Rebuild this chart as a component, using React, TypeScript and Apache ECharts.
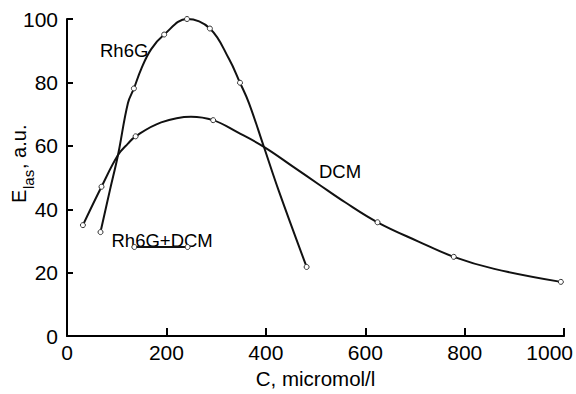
import React, { useEffect, useRef } from "react";
import * as echarts from "echarts";

// Tick settings
const xMin = 0;
const xMax = 1000;
const xStep = 200;
const yMin = 0;
const yMax = 100;
const yStep = 20;

// Rh6G curve; marked = drawn with a small circle
const rh6gX = [67.4, 86, 102.6, 122.6, 134.6, 149.4, 169.4, 195.4, 241.4, 287.4, 326, 348, 366, 396, 426, 482];
const rh6gY = [32.8, 45.8, 57.1, 73.5, 78.1, 84.3, 90.5, 95.1, 100, 97, 87.4, 79.9, 73.5, 59.7, 45.8, 21.8];
const rh6gMarked = [1, 0, 0, 0, 1, 0, 0, 1, 1, 1, 0, 1, 0, 0, 0, 1];

// DCM curve
const dcmX = [32, 69.4, 102.6, 122.6, 138, 189.4, 249.4, 294, 342.6, 396, 456, 506, 559.4, 624.6, 706, 778, 859.4, 993.4];
const dcmY = [35, 47.1, 57.1, 60.7, 63, 67.4, 69.2, 68.1, 64.3, 59.7, 53.3, 47.9, 42.2, 35.9, 29.9, 25, 21.2, 17.1];
const dcmMarked = [1, 1, 0, 0, 1, 0, 0, 1, 0, 0, 0, 0, 0, 1, 0, 1, 0, 1];

// Rh6G+DCM segment
const mixX = [135.4, 242.6];
const mixY = [28.1, 28.1];

const seriesNames = ["Rh6G", "DCM", "Rh6G+DCM"];
const xAxisName = "C, micromol/l";
const yNameMain = "E";
const yNameSub = "las";
const yNameTail = ", a.u.";

const FONT = "'Liberation Sans', Arial, Helvetica, sans-serif";

function toData(xs: number[], ys: number[], marked: number[]) {
  return xs.map((x, i) => ({
    value: [x, ys[i]],
    symbol: marked[i] ? "circle" : "none",
  }));
}

export default function App() {
  const ref = useRef<HTMLDivElement>(null);

  useEffect(() => {
    if (!ref.current) return;
    const chart = echarts.init(ref.current, undefined, { renderer: "svg" });

    const lineStyle = { color: "#111", width: 2 };
    const itemStyle = { color: "#fff", borderColor: "#333", borderWidth: 1 };
    const rot = Math.PI / 2;

    chart.setOption({
      animation: false,
      backgroundColor: "#fff",
      grid: { left: 67, right: 9, top: 19, bottom: 50, containLabel: false },
      xAxis: {
        type: "value",
        min: xMin,
        max: xMax,
        interval: xStep,
        name: xAxisName,
        nameLocation: "middle",
        nameGap: 30,
        nameTextStyle: { fontSize: 20.5, fontFamily: FONT, color: "#000" },
        axisLine: { show: true, onZero: false, lineStyle: { color: "#000", width: 2 } },
        axisTick: { show: true, inside: true, length: 8, lineStyle: { color: "#000", width: 2 } },
        axisLabel: {
          fontSize: 21,
          fontFamily: FONT,
          color: "#000",
          margin: 6,
          formatter: (v: number) => (v === xMax ? "{last|" + v + "}" : String(v)),
          rich: {
            last: { fontSize: 21, fontFamily: FONT, color: "#000", padding: [0, 29, 0, 0] },
          },
        },
        splitLine: { show: false },
      },
      yAxis: {
        type: "value",
        min: yMin,
        max: yMax,
        interval: yStep,
        axisLine: { show: true, onZero: false, lineStyle: { color: "#000", width: 2 } },
        axisTick: { show: true, inside: true, length: 6, lineStyle: { color: "#000", width: 2 } },
        axisLabel: { fontSize: 21, fontFamily: FONT, color: "#000", margin: 9 },
        splitLine: { show: false },
      },
      graphic: [
        {
          type: "text",
          x: 19,
          y: 203,
          rotation: rot,
          style: { text: yNameMain, fontSize: 20, fontFamily: FONT, fill: "#000", align: "left", verticalAlign: "middle" },
        },
        {
          type: "text",
          x: 28,
          y: 189,
          rotation: rot,
          style: { text: yNameSub, fontSize: 15, fontFamily: FONT, fill: "#000", align: "left", verticalAlign: "middle" },
        },
        {
          type: "text",
          x: 19,
          y: 169,
          rotation: rot,
          style: { text: yNameTail, fontSize: 20, fontFamily: FONT, fill: "#000", align: "left", verticalAlign: "middle" },
        },
        {
          type: "text",
          x: 100,
          y: 50,
          style: { text: seriesNames[0], fontSize: 18.5, fontFamily: FONT, fill: "#000", align: "left", verticalAlign: "middle" },
        },
        {
          type: "text",
          x: 319,
          y: 171,
          style: { text: seriesNames[1], fontSize: 18.5, fontFamily: FONT, fill: "#000", align: "left", verticalAlign: "middle" },
        },
        {
          type: "text",
          x: 111.5,
          y: 240,
          style: { text: seriesNames[2], fontSize: 18.5, fontFamily: FONT, fill: "#000", align: "left", verticalAlign: "middle" },
        },
      ],
      series: [
        {
          name: seriesNames[0],
          type: "line",
          smooth: 0.4,
          data: toData(rh6gX, rh6gY, rh6gMarked),
          symbolSize: 5,
          showSymbol: true,
          lineStyle,
          itemStyle,
        },
        {
          name: seriesNames[1],
          type: "line",
          smooth: 0.4,
          data: toData(dcmX, dcmY, dcmMarked),
          symbolSize: 5,
          showSymbol: true,
          lineStyle,
          itemStyle,
        },
        {
          name: seriesNames[2],
          type: "line",
          data: toData(mixX, mixY, [1, 1]),
          symbolSize: 5,
          showSymbol: true,
          lineStyle,
          itemStyle,
        },
      ],
    });

    return () => chart.dispose();
  }, []);

  return (
    <div
      ref={ref}
      style={{ position: "fixed", left: 0, top: 0, width: 576, height: 394, background: "#fff" }}
    />
  );
}
